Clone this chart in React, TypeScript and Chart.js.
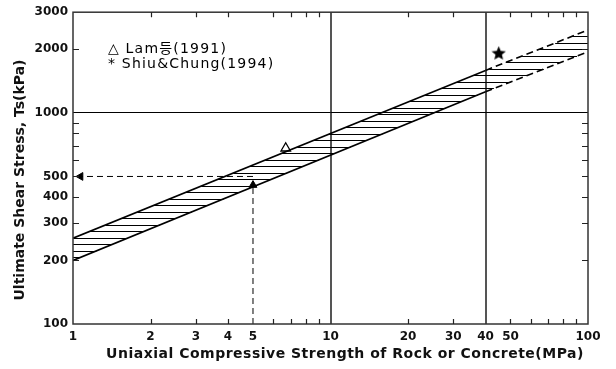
import React, { useEffect, useRef } from "react";
import { Chart, registerables } from "chart.js";

Chart.register(...registerables);

// ---- data ----
const bandX = [1, 40, 100];
const bandLower = [200, 1260, 1950];
const bandUpper = [255, 1590, 2470];
const lamPoint = [{ x: 6.7, y: 680 }];
const shiuPoint = [{ x: 45, y: 1920 }];
const exampleX = [5, 5];
const exampleVertY = [100, 455];
const exampleHorizX = [5, 1];
const exampleHorizY = [500, 500];
const arrowX = [5, 1.07];
const arrowY = [455, 500];
const arrowRotation = [0, 270];

const xTickLabels = [1, 2, 3, 4, 5, 10, 20, 30, 40, 50, 100];
const yTickLabels = [100, 200, 300, 400, 500, 1000, 2000, 3000];
const xMinorTicks = [2, 3, 4, 6, 7, 8, 9, 20, 30, 50, 60, 70, 80, 90];
const yMinorTicks = [200, 300, 400, 500, 600, 700, 800, 900, 2000];
const xGridLines = [10, 40];
const yGridLines = [1000];
const legendLines = ["△ Lam등(1991)", "* Shiu&Chung(1994)"];
const xTitle = "Uniaxial Compressive Strength of Rock or Concrete(MPa)";
const yTitle = "Ultimate Shear Stress, Ts(kPa)";

function xAtValue(xs: number[], ys: number[], v: number): number {
  const lv = Math.log10(v);
  let i = 0;
  for (let k = 0; k < ys.length - 1; k++) {
    i = k;
    if (lv <= Math.log10(ys[k + 1])) break;
  }
  const y0 = Math.log10(ys[i]);
  const y1 = Math.log10(ys[i + 1]);
  const x0 = Math.log10(xs[i]);
  const x1 = Math.log10(xs[i + 1]);
  const t = (lv - y0) / (y1 - y0);
  return Math.pow(10, x0 + t * (x1 - x0));
}

function makeStar(size: number): HTMLCanvasElement {
  const c = document.createElement("canvas");
  c.width = size;
  c.height = size;
  const g = c.getContext("2d")!;
  const cx = size / 2;
  const cy = size / 2 + 0.5;
  const R = size / 2;
  const r = R * 0.45;
  g.beginPath();
  for (let i = 0; i < 10; i++) {
    const ang = -Math.PI / 2 + (i * Math.PI) / 5;
    const rad = i % 2 === 0 ? R : r;
    const px = cx + rad * Math.cos(ang);
    const py = cy + rad * Math.sin(ang);
    if (i === 0) g.moveTo(px, py);
    else g.lineTo(px, py);
  }
  g.closePath();
  g.fillStyle = "#000";
  g.fill();
  return c;
}

const decorPlugin = {
  id: "decor",
  beforeDatasetsDraw(chart: any) {
    const { ctx, chartArea, scales } = chart;
    const xs = scales.x;
    const ys = scales.y;
    ctx.save();
    ctx.beginPath();
    ctx.rect(chartArea.left, chartArea.top, chartArea.right - chartArea.left, chartArea.bottom - chartArea.top);
    ctx.clip();
    // hatch lines
    ctx.strokeStyle = "#000";
    ctx.lineWidth = 1;
    const pyStart = ys.getPixelForValue(bandLower[0]);
    const pyEnd = ys.getPixelForValue(bandUpper[bandUpper.length - 1]);
    for (let py = pyStart - 3; py > pyEnd; py -= 6.5) {
      const v = ys.getValueForPixel(py);
      const xu = Math.max(xAtValue(bandX, bandUpper, v), bandX[0]);
      const xl = Math.min(xAtValue(bandX, bandLower, v), bandX[bandX.length - 1]);
      if (xl <= xu) continue;
      const yy = Math.round(py) + 0.5;
      ctx.beginPath();
      ctx.moveTo(xs.getPixelForValue(xu), yy);
      ctx.lineTo(xs.getPixelForValue(xl), yy);
      ctx.stroke();
    }
    ctx.restore();
  },
  afterDraw(chart: any) {
    const { ctx, chartArea, scales } = chart;
    const xs = scales.x;
    const ys = scales.y;
    const { left, right, top, bottom } = chartArea;
    ctx.save();
    // frame
    ctx.strokeStyle = "#333";
    ctx.lineWidth = 1.5;
    ctx.strokeRect(left, top, right - left, bottom - top);
    // inward ticks
    ctx.lineWidth = 1.2;
    ctx.strokeStyle = "#222";
    ctx.beginPath();
    for (const v of xMinorTicks) {
      const px = Math.round(xs.getPixelForValue(v)) + 0.5;
      ctx.moveTo(px, bottom);
      ctx.lineTo(px, bottom - 5);
      ctx.moveTo(px, top);
      ctx.lineTo(px, top + 5);
    }
    for (const v of yMinorTicks) {
      const py = Math.round(ys.getPixelForValue(v)) + 0.5;
      ctx.moveTo(left, py);
      ctx.lineTo(left + 6, py);
      ctx.moveTo(right, py);
      ctx.lineTo(right - 6, py);
    }
    ctx.stroke();
    // legend text
    ctx.fillStyle = "#000";
    ctx.font = '14px "DejaVu Sans", "Noto Sans CJK KR", sans-serif';
    (ctx as any).letterSpacing = "1.2px";
    ctx.textBaseline = "middle";
    ctx.textAlign = "left";
    legendLines.forEach((t, i) => {
      ctx.fillText(t, 108, 49 + i * 15);
    });
    // axis titles
    ctx.fillStyle = "#111";
    ctx.font = 'bold 14px "DejaVu Sans", sans-serif';
    (ctx as any).letterSpacing = "0.5px";
    ctx.textAlign = "center";
    ctx.fillText(xTitle, 345, 354);
    (ctx as any).letterSpacing = "0px";
    ctx.translate(20, 180);
    ctx.rotate(-Math.PI / 2);
    ctx.fillText(yTitle, 0, 0);
    ctx.restore();
  },
};

export default function App() {
  const ref = useRef<HTMLCanvasElement | null>(null);
  useEffect(() => {
    if (!ref.current) return;
    const star = makeStar(15);
    const tickFont = { family: "DejaVu Sans", size: 12, weight: "bold" as const };
    const bandSegment = {
      borderDash: (c: any) => (c.p0.parsed.x >= 40 ? [7, 4] : undefined),
    };
    const chart = new Chart(ref.current, {
      type: "scatter",
      data: {
        datasets: [
          {
            label: "lower",
            data: bandX.map((x, i) => ({ x, y: bandLower[i] })),
            showLine: true,
            borderColor: "#000",
            borderWidth: 1.6,
            pointRadius: 0,
            segment: bandSegment,
          },
          {
            label: "upper",
            data: bandX.map((x, i) => ({ x, y: bandUpper[i] })),
            showLine: true,
            borderColor: "#000",
            borderWidth: 1.6,
            pointRadius: 0,
            segment: bandSegment,
          },
          {
            label: "vert",
            data: exampleX.map((x, i) => ({ x, y: exampleVertY[i] })),
            showLine: true,
            borderColor: "#000",
            borderWidth: 1,
            borderDash: [6, 4],
            pointRadius: 0,
          },
          {
            label: "horiz",
            data: exampleHorizX.map((x, i) => ({ x, y: exampleHorizY[i] })),
            showLine: true,
            borderColor: "#000",
            borderWidth: 1,
            borderDash: [6, 4],
            pointRadius: 0,
          },
          {
            label: "arrows",
            data: arrowX.map((x, i) => ({ x, y: arrowY[i] })),
            pointStyle: "triangle",
            pointRotation: arrowRotation,
            pointRadius: 4.5,
            backgroundColor: "#000",
            borderColor: "#000",
            borderWidth: 1,
          },
          {
            label: "Lam",
            data: lamPoint,
            pointStyle: "triangle",
            pointRadius: 5.5,
            backgroundColor: "#fff",
            borderColor: "#000",
            borderWidth: 1.3,
          },
          {
            label: "Shiu",
            data: shiuPoint,
            pointStyle: star,
            pointRadius: 7,
          },
        ],
      },
      options: {
        responsive: false,
        animation: false,
        devicePixelRatio: 1,
        layout: { padding: { top: 12, right: 28, left: 0, bottom: 0 } },
        plugins: { legend: { display: false }, tooltip: { enabled: false } },
        scales: {
          x: {
            type: "logarithmic",
            min: 1,
            max: 100,
            afterBuildTicks: (s: any) => {
              s.ticks = xTickLabels.map((v) => ({ value: v }));
            },
            afterFit: (s: any) => {
              s.height = 45;
            },
            ticks: {
              autoSkip: false,
              maxRotation: 0,
              padding: 6,
              color: "#111",
              font: tickFont,
              callback: (v: any) => String(v),
            },
            grid: {
              drawTicks: false,
              color: (c: any) => (c.tick && xGridLines.includes(c.tick.value) ? "#555" : "rgba(0,0,0,0)"),
              lineWidth: 2,
            },
            border: { display: false },
            title: { display: false },
          },
          y: {
            type: "logarithmic",
            min: 100,
            max: 3000,
            afterBuildTicks: (s: any) => {
              s.ticks = yTickLabels.map((v) => ({ value: v }));
            },
            afterFit: (s: any) => {
              s.width = 73;
            },
            ticks: {
              autoSkip: false,
              padding: 5,
              color: "#111",
              font: tickFont,
              callback: (v: any) => String(v),
            },
            grid: {
              drawTicks: false,
              color: (c: any) => (c.tick && yGridLines.includes(c.tick.value) ? "#000" : "rgba(0,0,0,0)"),
              lineWidth: 1,
            },
            border: { display: false },
            title: { display: false },
          },
        },
      },
      plugins: [decorPlugin],
    } as any);
    return () => chart.destroy();
  }, []);
  return (
    <div style={{ position: "absolute", left: 0, top: 0, width: 616, height: 369, background: "#fff" }}>
      <canvas ref={ref} width={616} height={369} />
    </div>
  );
}
